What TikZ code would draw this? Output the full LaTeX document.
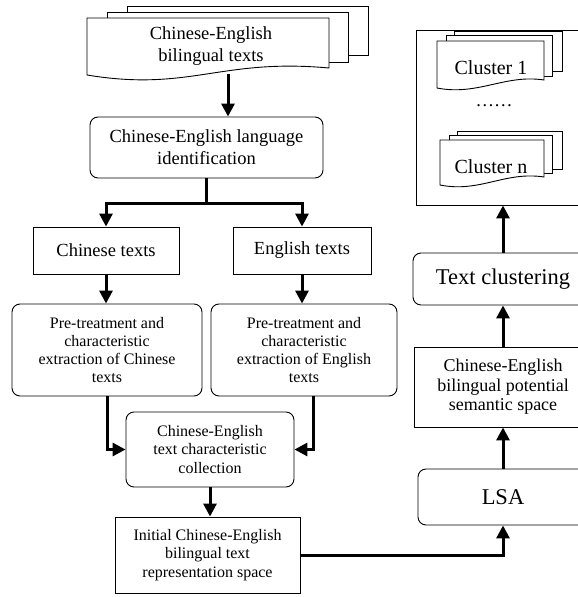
\documentclass[tikz,border=0pt]{standalone}
\usepackage{fontspec}
\setmainfont{Liberation Serif}
\usetikzlibrary{arrows.meta}
\tikzset{
  bx/.style={draw, line width=0.9pt, align=center, inner sep=0pt},
  rbx/.style={bx, rounded corners=8pt},
  arr/.style={line width=3pt, -{Triangle[width=13pt,length=13pt]}},
  docln/.style={draw, line width=0.9pt, fill=white},
  fA/.style={font=\fontsize{18.5}{22}\selectfont},
  fB/.style={font=\fontsize{16}{18.3}\selectfont},
  fC/.style={font=\fontsize{18}{19.5}\selectfont},
  fD/.style={font=\fontsize{20}{22}\selectfont},
  fE/.style={font=\fontsize{22.5}{24}\selectfont},
}
\begin{document}
\begin{tikzpicture}[x=1pt,y=-1pt]
\useasboundingbox (0,0) rectangle (578,597);
\clip (0,0) rectangle (578,597);

% top document stack
\draw[docln] (127,6) rectangle (368,55);
\draw[docln] (107,12) rectangle (348,62);
\draw[docln] (87,18) -- (329,18) -- (329,68) .. controls (220,58) and (190,92) .. (87,75) -- cycle;
\node[fA, align=center] (src) at (211,46) {Chinese-English\\bilingual texts};
\coordinate (srcb) at (228,74);

% left column
\node[rbx, fA, minimum width=233pt, minimum height=61pt] (lid) at (206.5,147.5) {Chinese-English language\\identification};
\node[bx, fA, minimum width=146pt, minimum height=47pt] (cht) at (106,250.5) {Chinese texts};
\node[bx, fA, minimum width=138pt, minimum height=47pt] (ent) at (302,250.5) {English texts};
\node[rbx, fB, minimum width=190pt, minimum height=92pt] (chp) at (107,350) {Pre-treatment and\\characteristic\\extraction of Chinese\\texts};
\node[rbx, fB, minimum width=186pt, minimum height=92pt] (enp) at (304,350) {Pre-treatment and\\characteristic\\extraction of English\\texts};
\node[rbx, fB, minimum width=168pt, minimum height=75pt] (coll) at (210,449.5) {Chinese-English\\text characteristic\\collection};
\node[bx, fB, minimum width=185pt, minimum height=76pt] (init) at (207.5,555) {Initial Chinese-English\\bilingual text\\representation space};

% right column
\node[rbx, fE, minimum width=170pt, minimum height=56pt] (lsa) at (503,497) {LSA};
\node[bx, fC, minimum width=178pt, minimum height=80pt] (sem) at (503,387) {Chinese-English\\bilingual potential\\semantic space};
\node[rbx, fE, minimum width=180pt, minimum height=52pt] (tc) at (503,279) {Text clustering};
\node[bx, minimum width=174pt, minimum height=175pt] (cont) at (503,117.5) {};

% cluster 1 stack
\draw[docln] (454,31) rectangle (562,71);
\draw[docln] (446,35) rectangle (552,76);
\draw[docln] (437,41) -- (544,41) -- (544,80) .. controls (505,74) and (478,96) .. (437,88) -- cycle;
\node[fD] (c1) at (491,68) {Cluster 1};
\node[fA] (dots) at (494,106) {……};
% cluster n stack
\draw[docln] (457,131) rectangle (562,169);
\draw[docln] (449,135) rectangle (552,173);
\draw[docln] (440,140) -- (544,140) -- (544,177) .. controls (505,171) and (480,193) .. (440,185) -- cycle;
\node[fD] (cn) at (491,167) {Cluster n};

% connectors
\coordinate (sp) at (206.5,203);
\draw[arr] (srcb) -- (srcb |- lid.north);
\draw[arr] (lid.south) -- (sp) -| (cht.north);
\draw[arr] (lid.south) -- (sp) -| (ent.north);
\draw[arr] (cht.south) -- (cht.south |- chp.north);
\draw[arr] (ent.south) -- (ent.south |- enp.north);
\draw[arr] (chp.south) |- (coll.west);
\draw[arr] ([xshift=9pt]enp.south) |- (coll.east);
\draw[arr] (coll.south) -- (coll.south |- init.north);
\draw[arr] (init.east) -| (lsa.south);
\draw[arr] (lsa.north) -- (sem.south);
\draw[arr] (sem.north) -- (tc.south);
\draw[arr] (tc.north) -- (cont.south);
\end{tikzpicture}
\end{document}
